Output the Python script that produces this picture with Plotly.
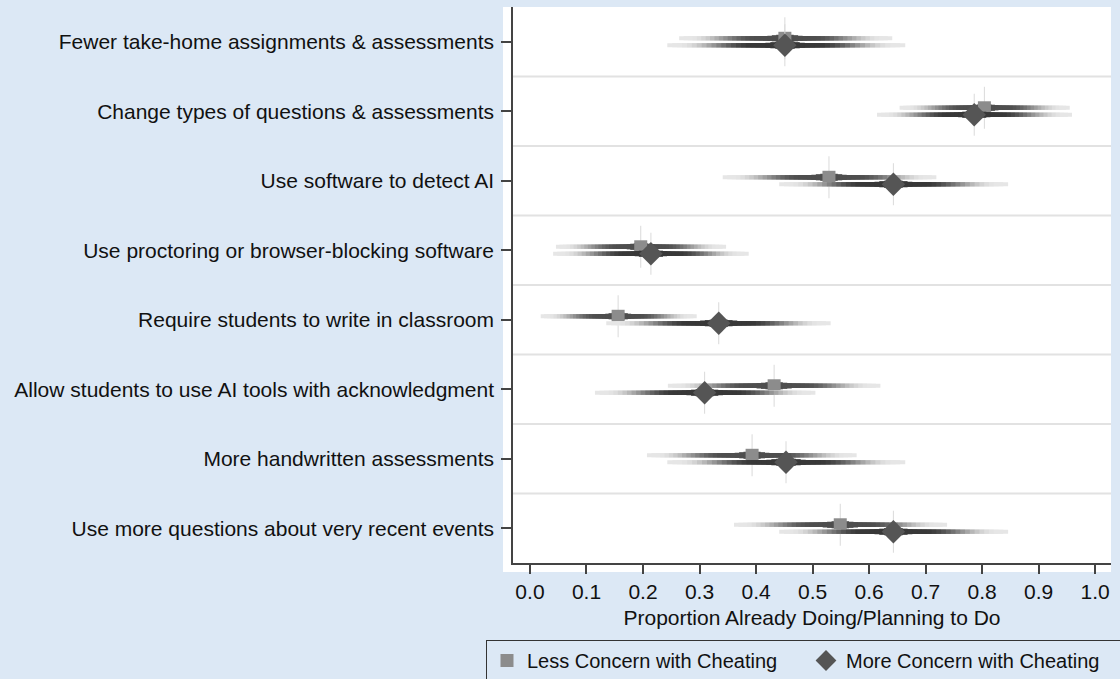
import plotly.graph_objects as go

categories = [
    "Fewer take-home assignments & assessments",
    "Change types of questions & assessments",
    "Use software to detect AI",
    "Use proctoring or browser-blocking software",
    "Require students to write in classroom",
    "Allow students to use AI tools with acknowledgment",
    "More handwritten assessments",
    "Use more questions about very recent events",
]

less_est = [0.451, 0.804, 0.529, 0.196, 0.156, 0.432, 0.393, 0.549]
less_lo = [0.264, 0.654, 0.341, 0.046, 0.019, 0.244, 0.207, 0.361]
less_hi = [0.641, 0.955, 0.719, 0.347, 0.295, 0.620, 0.578, 0.738]

more_est = [0.451, 0.786, 0.643, 0.214, 0.334, 0.309, 0.453, 0.643]
more_lo = [0.243, 0.614, 0.441, 0.041, 0.135, 0.115, 0.243, 0.441]
more_hi = [0.664, 0.959, 0.846, 0.387, 0.532, 0.505, 0.664, 0.846]

x_ticks = [0.0, 0.1, 0.2, 0.3, 0.4, 0.5, 0.6, 0.7, 0.8, 0.9, 1.0]
x_title = "Proportion Already Doing/Planning to Do"
legend_names = ["Less Concern with Cheating", "More Concern with Cheating"]

LIGHT = (230, 230, 230)
BG = "#dce8f5"
FONT = "Liberation Sans, Arial, sans-serif"

# smooth gradient styling for the confidence spikes (outer -> inner)
N_STEPS = 24
grad_frac, grad_mix, grad_width = [], [], []
for i in range(N_STEPS):
    f = 1.0 - i * (0.96 / (N_STEPS - 1))
    grad_frac.append(f)
    t = min(1.0, max(0.0, (0.92 - f) / 0.62))
    grad_mix.append(t * t * (3 - 2 * t))
    grad_width.append(4 + max(0.0, (0.22 - f)) * 22)

fig = go.Figure()

y_pos = list(range(1, len(categories) + 1))


def mix(c1, c2, t):
    return "rgb(%d,%d,%d)" % tuple(round(a + (b - a) * t) for a, b in zip(c1, c2))


def add_series(est, lo, hi, offset, dark, symbol, msize, mcolor, name):
    for frac, m, w in zip(grad_frac, grad_mix, grad_width):
        xs, ys = [], []
        for e, l, h, y in zip(est, lo, hi, y_pos):
            xs += [e - frac * (e - l), e + frac * (h - e), None]
            ys += [y + offset, y + offset, None]
        fig.add_trace(go.Scatter(
            x=xs, y=ys, mode="lines", showlegend=False, hoverinfo="skip",
            line=dict(color=mix(LIGHT, dark, m), width=w),
        ))
    fig.add_trace(go.Scatter(
        x=est, y=[y + offset for y in y_pos], mode="markers", showlegend=False,
        hoverinfo="skip",
        marker=dict(symbol="line-ns", size=30, line=dict(color="#dadada", width=1)),
    ))
    fig.add_trace(go.Scatter(
        x=est, y=[y + offset for y in y_pos], mode="markers", name=name,
        marker=dict(symbol=symbol, size=msize, color=mcolor, line=dict(width=0)),
    ))


add_series(less_est, less_lo, less_hi, -0.05, (78, 78, 78), "square", 13, "#8c8c8c", legend_names[0])
add_series(more_est, more_lo, more_hi, 0.05, (56, 56, 56), "diamond", 18, "#555555", legend_names[1])

shapes = []
# white plot region including tick area
shapes.append(dict(type="rect", xref="paper", yref="paper", x0=-10 / 598, x1=1, y0=-9 / 556, y1=1,
                   fillcolor="white", line=dict(width=0), layer="below"))
for k in range(1, len(categories)):
    shapes.append(dict(type="line", xref="paper", yref="y", x0=0, x1=1, y0=k + 0.5, y1=k + 0.5,
                       line=dict(color="#e2e2e2", width=2), layer="below"))

fig.update_layout(
    width=1120, height=679,
    margin=dict(l=513, r=9, t=7, b=116, autoexpand=False),
    paper_bgcolor=BG, plot_bgcolor="white",
    font=dict(family=FONT, size=21, color="#111111"),
    shapes=shapes,
    showlegend=True,
    legend=dict(orientation="h", x=(486 - 513) / 598, xanchor="left",
                y=(563 - 640) / 556, yanchor="top",
                bgcolor=BG, bordercolor="#333333", borderwidth=1,
                font=dict(size=20), itemsizing="trace", tracegroupgap=0,
                entrywidth=274),
)
fig.update_xaxes(
    range=[-0.030, 1.028], tickvals=x_ticks, tickformat=".1f",
    showline=True, linecolor="#444444", linewidth=1.5,
    ticks="outside", ticklen=9, tickwidth=1.5, tickcolor="#444444",
    showgrid=False, zeroline=False,
    title=dict(text=x_title, font=dict(size=21), standoff=8),
    tickfont=dict(size=21),
)
fig.update_yaxes(
    range=[8.5, 0.5], tickvals=y_pos, ticktext=categories,
    showline=True, linecolor="#444444", linewidth=1.5,
    ticks="outside", ticklen=10, tickwidth=1.5, tickcolor="#444444",
    showgrid=False, zeroline=False, tickfont=dict(size=21),
    ticklabelstandoff=3,
)

fig.write_html("out.html", config={"displayModeBar": False},
               post_script="document.body.style.margin='0';document.body.style.padding='0';")
